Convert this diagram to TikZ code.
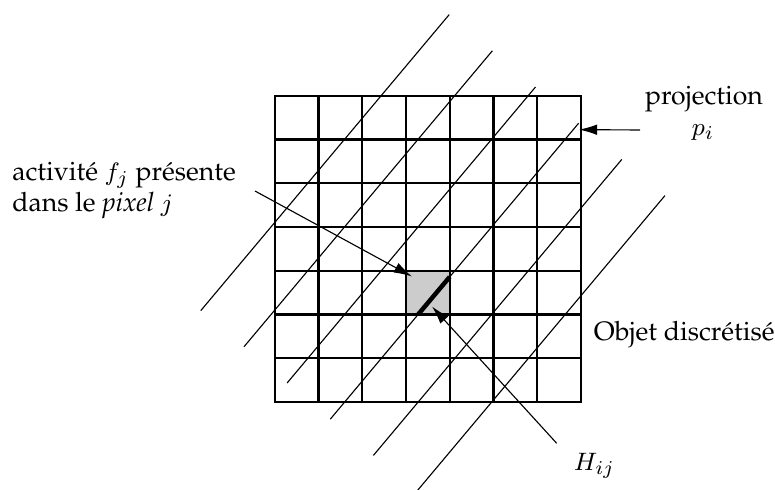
\documentclass[tikz,border=0pt]{standalone}
\usepackage[T1]{fontenc}
\usepackage{palatino}
\usetikzlibrary{arrows.meta}
\begin{document}
\begin{tikzpicture}[x=0.357pt,y=-0.357pt,
  gridline/.style={line width=0.75pt},
  ray/.style={line width=0.4pt},
  thickseg/.style={line width=1.6pt},
  pointer/.style={line width=0.4pt,-{Latex[length=6.5pt,width=3.8pt]}},
  lbl/.style={font=\fontsize{9.5}{11.4}\selectfont, inner sep=0pt}]
\useasboundingbox (0,0) rectangle (775,489);
% shaded pixel
\fill[black!20] (405.95,270.7) rectangle (449.7,314.45);
% grid
\foreach \i in {1,...,6} {
  \draw[gridline] ({274.7+43.75*\i},95.7) -- ({274.7+43.75*\i},401.95);
  \draw[gridline] (274.7,{95.7+43.75*\i}) -- (580.95,{95.7+43.75*\i});
}
\draw[gridline] (274.7,95.7) rectangle (580.95,401.95);
% projection rays
\foreach \k in {0,...,5} {
  \draw[ray] ({449.2+43.15*\k},{14.6+36.2*\k}) -- ++(-248.4,296);
}
% H_ij segment
\draw[thickseg] (418.15,314.45) -- (449.7,276.9);
% labels
\node[lbl, anchor=base west] (act) at (11.7,180) {activit\'e $f_j$ pr\'esente};
\node[lbl, anchor=base west] (dans) at (11.7,211.7) {dans le \textit{pixel} $j$};
\node[lbl, anchor=base] (proj) at (704,104) {projection};
\node[lbl, anchor=base] (pi) at (703,135.5) {$p_i$};
\node[lbl, anchor=base west] (obj) at (593.3,340) {Objet discr\'etis\'e};
\node[lbl, anchor=base west] (hij) at (573.3,470) {$H_{ij}$};
% arrows
\coordinate (a1) at (255,191); \coordinate (t1) at (412,276.5);
\coordinate (a2) at (640,130); \coordinate (t2) at (579,129.6);
\coordinate (a3) at (556.7,443.3); \coordinate (t3) at (432,306.5);
\draw[pointer] (a1) -- (t1);
\draw[pointer] (a2) -- (t2);
\draw[pointer] (a3) -- (t3);
\end{tikzpicture}
\end{document}
